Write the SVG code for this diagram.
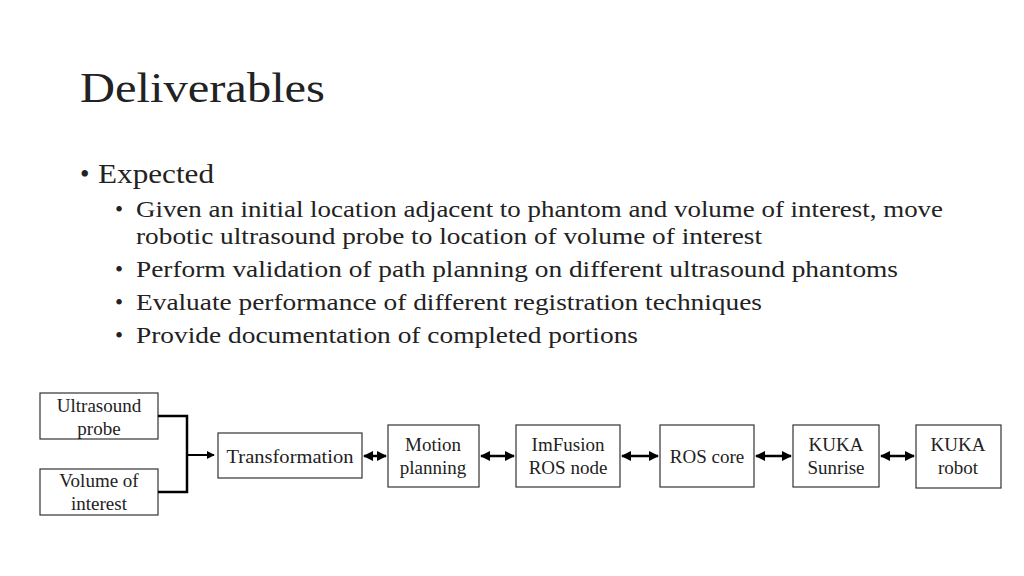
<svg xmlns="http://www.w3.org/2000/svg" width="1024" height="576" viewBox="0 0 1024 576">
<style>
text{font-family:"Liberation Serif","DejaVu Serif",serif;fill:#222}
.b{fill:#fff;stroke:#333;stroke-width:1.2}
.n{font-size:19px;text-anchor:middle}
.c{stroke:#000;stroke-width:2.5;fill:none}
</style>
<defs>
<marker id="a" viewBox="0 0 10 10" refX="9" refY="5" markerWidth="4" markerHeight="4" orient="auto-start-reverse"><path d="M0,0L10,5L0,10z" fill="#000"/></marker>
</defs>
<rect width="1024" height="576" fill="#fff"/>
<text x="80" y="102" font-size="42" textLength="245" lengthAdjust="spacingAndGlyphs">Deliverables</text>
<text x="80" y="183" font-size="27">•</text>
<text x="98" y="183" font-size="27" textLength="116" lengthAdjust="spacingAndGlyphs">Expected</text>
<g font-size="23">
<text x="115" y="217">•</text><text x="136" y="217" textLength="807" lengthAdjust="spacingAndGlyphs">Given an initial location adjacent to phantom and volume of interest, move</text>
<text x="136" y="244" textLength="626" lengthAdjust="spacingAndGlyphs">robotic ultrasound probe to location of volume of interest</text>
<text x="115" y="277">•</text><text x="136" y="277" textLength="762" lengthAdjust="spacingAndGlyphs">Perform validation of path planning on different ultrasound phantoms</text>
<text x="115" y="310">•</text><text x="136" y="310" textLength="626" lengthAdjust="spacingAndGlyphs">Evaluate performance of different registration techniques</text>
<text x="115" y="343">•</text><text x="136" y="343" textLength="502" lengthAdjust="spacingAndGlyphs">Provide documentation of completed portions</text>
</g>
<g id="probe"><rect class="b" x="40" y="393" width="118" height="46"/><text class="n" x="99" y="412">Ultrasound</text><text class="n" x="99" y="435">probe</text></g>
<g id="voi"><rect class="b" x="40" y="469" width="118" height="46"/><text class="n" x="99" y="487">Volume of</text><text class="n" x="99" y="510">interest</text></g>
<g id="trans"><rect class="b" x="218" y="433" width="144" height="45"/><text class="n" x="290" y="463" textLength="127" lengthAdjust="spacingAndGlyphs">Transformation</text></g>
<g id="motion"><rect class="b" x="388" y="425" width="91" height="62"/><text class="n" x="433" y="451">Motion</text><text class="n" x="433" y="474">planning</text></g>
<g id="imfusion"><rect class="b" x="516" y="425" width="104" height="62"/><text class="n" x="568" y="451">ImFusion</text><text class="n" x="568" y="474">ROS node</text></g>
<g id="roscore"><rect class="b" x="660" y="425" width="94" height="62"/><text class="n" x="707" y="463">ROS core</text></g>
<g id="sunrise"><rect class="b" x="793" y="425" width="86" height="62"/><text class="n" x="836" y="451">KUKA</text><text class="n" x="836" y="474">Sunrise</text></g>
<g id="robot"><rect class="b" x="916" y="425" width="85" height="63"/><text class="n" x="958" y="451">KUKA</text><text class="n" x="958" y="474">robot</text></g>
<g id="connectors">
<path class="c" d="M158,416H187V492H158"/>
<path d="M187,455H214" stroke="#000" stroke-width="2" marker-end="url(#a)"/>
<path class="c" d="M364,456H386" marker-start="url(#a)" marker-end="url(#a)"/>
<path class="c" d="M481,456H514" marker-start="url(#a)" marker-end="url(#a)"/>
<path class="c" d="M622,456H658" marker-start="url(#a)" marker-end="url(#a)"/>
<path class="c" d="M756,456H791" marker-start="url(#a)" marker-end="url(#a)"/>
<path class="c" d="M881,456H914" marker-start="url(#a)" marker-end="url(#a)"/>
</g>
</svg>
